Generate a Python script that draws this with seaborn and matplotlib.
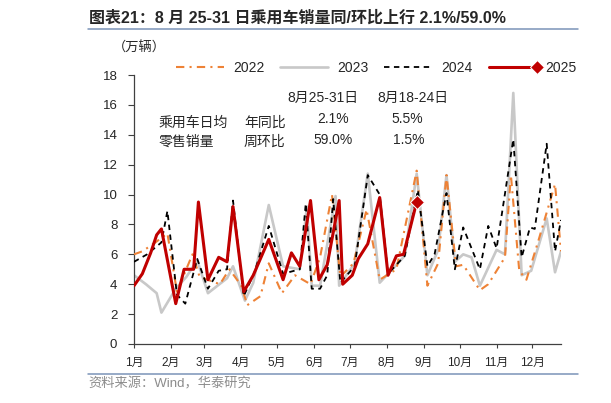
import numpy as np
import pandas as pd
import matplotlib
matplotlib.use("Agg")
import matplotlib.pyplot as plt
from matplotlib.legend_handler import HandlerLine2D
import seaborn as sns

# ---------------------------------------------------------------------------
# Data: weekly average daily retail sales (万辆), x = day of year (Jan 1 = 0)
# ---------------------------------------------------------------------------
days_2022 = [0, 7, 18, 28, 36, 49, 55, 72, 80, 90, 95, 106, 113, 124, 135, 148,
             156, 166, 173, 184, 195, 206, 220, 237, 246, 255, 262, 270, 276,
             290, 297, 311, 316, 323, 329, 339, 353, 358]
sales_2022 = [6.0, 6.2, 6.8, 7.4, 3.5, 6.0, 4.5, 4.0, 5.0, 3.9, 2.6, 3.2, 5.4,
              3.4, 4.6, 4.0, 5.8, 10.0, 4.5, 5.4, 9.0, 4.3, 5.0, 11.6, 3.9, 5.4,
              11.3, 5.2, 5.3, 3.6, 4.0, 5.8, 11.3, 4.9, 4.3, 6.9, 10.7, 6.2]

days_2023 = [0, 10, 19, 23, 35, 44, 53, 62, 78, 83, 93, 100, 113, 125, 139, 145,
             149, 156, 169, 172, 185, 196, 206, 227, 237, 246, 255, 262, 269,
             276, 283, 290, 304, 311, 318, 325, 333, 346, 353, 358]
sales_2023 = [4.6, 4.0, 3.4, 2.1, 3.7, 4.5, 5.6, 3.4, 4.4, 5.2, 2.9, 4.1, 9.3,
              5.2, 5.0, 9.2, 3.9, 3.9, 9.9, 3.9, 5.4, 11.4, 4.1, 5.9, 11.4, 4.6,
              6.3, 11.3, 5.5, 6.0, 5.8, 3.9, 6.3, 6.0, 16.8, 4.6, 4.9, 8.4, 4.8,
              6.2]

days_2024 = [0, 11, 23, 28, 36, 43, 53, 62, 71, 78, 83, 92, 101, 113, 125, 139,
             144, 149, 156, 162, 167, 173, 185, 196, 206, 213, 227, 238, 246,
             252, 262, 269, 276, 290, 297, 304, 318, 325, 332, 336, 346, 353, 358]
sales_2024 = [5.5, 6.0, 6.8, 8.9, 3.3, 2.7, 5.7, 3.7, 4.9, 5.0, 9.6, 3.2, 4.8,
              7.9, 4.7, 5.0, 9.4, 3.7, 3.7, 4.6, 9.7, 4.1, 5.2, 11.3, 10.0, 4.7,
              5.9, 10.3, 5.2, 6.0, 10.1, 5.0, 7.8, 5.0, 7.9, 6.4, 13.7, 5.8, 7.8,
              7.7, 13.4, 6.2, 8.3]

days_2025 = [0, 7, 14, 19, 23, 35, 42, 50, 54, 62, 71, 78, 83, 92, 100, 113,
             125, 132, 139, 148, 155, 162, 172, 175, 183, 188, 196, 206, 213,
             220, 226, 237]
sales_2025 = [3.9, 4.7, 6.1, 7.3, 7.7, 2.7, 5.0, 5.0, 9.5, 4.3, 5.8, 5.5, 9.2,
              3.5, 4.6, 7.0, 4.3, 6.1, 5.2, 9.6, 4.3, 5.3, 9.6, 4.0, 4.6, 5.7,
              6.7, 9.8, 4.6, 5.9, 6.0, 9.5]

month_starts = [0, 31, 59, 90, 120, 151, 181, 212, 243, 273, 304, 334]
month_labels = [f"{m}月" for m in range(1, 13)]
y_ticks = list(range(0, 19, 2))

# ---------------------------------------------------------------------------
# Style
# ---------------------------------------------------------------------------
sns.set_theme(style="ticks")
plt.rcParams["font.family"] = ["Liberation Sans", "Noto Sans CJK SC"]
plt.rcParams["axes.unicode_minus"] = False

W, H = 611, 403


def fx(px):
    return px / W


def fy(py):
    return 1 - py / H


class EndMarkerHandler(HandlerLine2D):
    # legend handle with the diamond only at the right end
    def create_artists(self, *args, **kwargs):
        arts = super().create_artists(*args, **kwargs)
        for a in arts:
            a.set_markevery([-1])
        return arts


fig = plt.figure(figsize=(W / 100, H / 100), dpi=100)
ax = fig.add_axes([fx(134), fy(344), (561 - 134) / W, (344 - 75) / H])

sns.lineplot(x=days_2023, y=sales_2023, ax=ax, color="#C8C8C8", lw=1.9,
             label="2023", zorder=2)
sns.lineplot(x=days_2022, y=sales_2022, ax=ax, color="#EE8236", lw=1.5,
             linestyle=(0, (4, 2.5, 1, 2.5)), label="2022", zorder=3)
sns.lineplot(x=days_2024, y=sales_2024, ax=ax, color="black", lw=1.3,
             linestyle=(0, (3, 2.5)), label="2024", zorder=4)
sns.lineplot(x=days_2025, y=sales_2025, ax=ax, color="#C00000", lw=2.2,
             marker="D", markersize=7, markevery=[len(days_2025) - 1],
             label="2025", zorder=5)

ax.set_xlim(0, 358)
ax.set_ylim(0, 18)
ax.set_xticks(month_starts)
ax.set_xticklabels(month_labels, fontsize=8.5)
ax.set_yticks(y_ticks)
ax.tick_params(axis="y", labelsize=9.5, length=4, width=0.8, pad=8,
               color="#404040")
ax.tick_params(axis="x", length=3, width=0.8, pad=6.5, color="#404040")
ax.set_xlabel("")
ax.set_ylabel("")
sns.despine(ax=ax)
for side in ("left", "bottom"):
    ax.spines[side].set_color("#404040")
    ax.spines[side].set_linewidth(0.9)

handles, labels = ax.get_legend_handles_labels()
order = [labels.index(k) for k in ["2022", "2023", "2024", "2025"]]
leg = ax.legend([handles[i] for i in order], [labels[i] for i in order],
                ncol=4, frameon=False, fontsize=10, loc="center left",
                bbox_to_anchor=(fx(176), fy(68)), bbox_transform=fig.transFigure,
                borderaxespad=0, borderpad=0, handlelength=3.45,
                handletextpad=0.65, columnspacing=1.15, numpoints=1,
                handler_map={handles[order[3]]: EndMarkerHandler()})

# ---------------------------------------------------------------------------
# Header, footer and in-chart table
# ---------------------------------------------------------------------------
fig.text(fx(89), fy(18), "图表21：8 月 25-31 日乘用车销量同/环比上行 2.1%/59.0%",
         fontsize=11.5, fontweight="bold", va="center", ha="left")
fig.add_artist(plt.Line2D([fx(88), fx(578)], [fy(29), fy(29)],
                          color="#7A93B8", lw=1.1))
fig.add_artist(plt.Line2D([fx(88), fx(578)], [fy(373.5), fy(373.5)],
                          color="#7A93B8", lw=1.1))
fig.text(fx(88), fy(384), "资料来源：Wind，华泰研究", fontsize=9.5,
         color="#8C8C8C", va="center", ha="left")
fig.text(fx(113), fy(48), "（万辆）", fontsize=9.5, va="center", ha="left")

fig.text(fx(159), fy(122.5), "乘用车日均", fontsize=10, va="center")
fig.text(fx(159), fy(141.5), "零售销量", fontsize=10, va="center")
fig.text(fx(244), fy(122.5), "年同比", fontsize=10, va="center")
fig.text(fx(244), fy(141.5), "周环比", fontsize=10, va="center")
fig.text(fx(323), fy(98), "8月25-31日", fontsize=10, va="center", ha="center")
fig.text(fx(413), fy(98), "8月18-24日", fontsize=10, va="center", ha="center")
fig.text(fx(333), fy(119), "2.1%", fontsize=10, va="center", ha="center")
fig.text(fx(333), fy(140.5), "59.0%", fontsize=10, va="center", ha="center")
fig.text(fx(407), fy(119), "5.5%", fontsize=10, va="center", ha="center")
fig.text(fx(409), fy(140.5), "1.5%", fontsize=10, va="center", ha="center")

fig.savefig("out.png", dpi=100)
